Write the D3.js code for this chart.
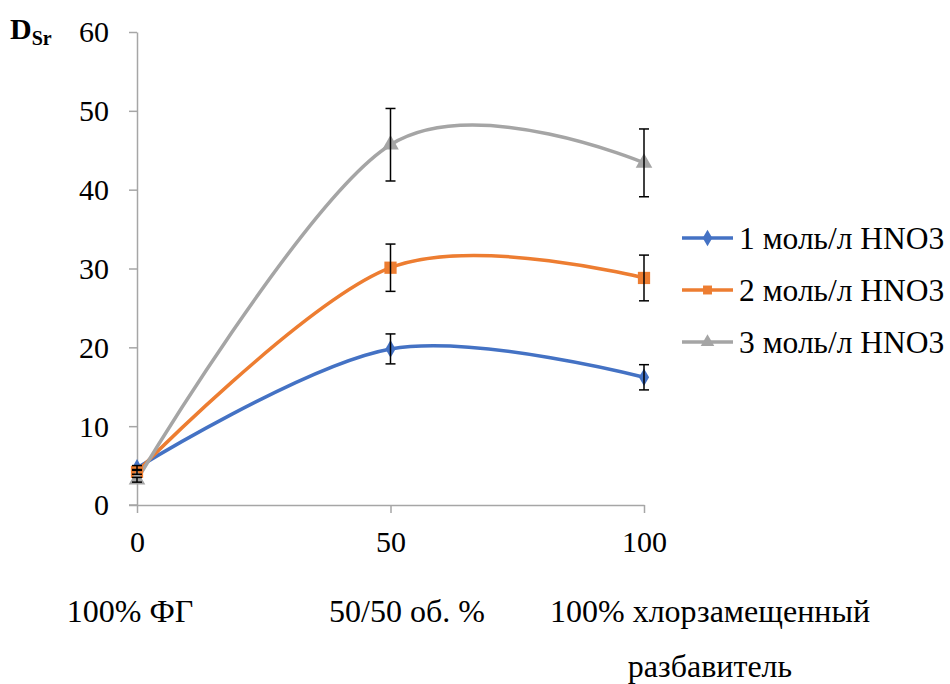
<!DOCTYPE html>
<html>
<head>
<meta charset="utf-8">
<script src="https://cdn.jsdelivr.net/npm/d3@7"></script>
<style>
  html, body { margin: 0; padding: 0; background: #fff; }
  svg { display: block; font-family: "Liberation Serif", "Times New Roman", serif; }
</style>
</head>
<body>
<svg id="chart" width="950" height="684"></svg>
<script>
// Volume share of the chlorinated diluent, %
const xValues = [0, 50, 100];

// Distribution coefficient of Sr for each HNO3 concentration
const seriesNames = ["1 моль/л HNO3", "2 моль/л HNO3", "3 моль/л HNO3"];
const d1 = [4.7, 19.8, 16.2];
const d2 = [4.2, 30.1, 28.8];
const d3v = [3.2, 45.7, 43.4];
const err1 = [0.3, 1.9, 1.6];
const err2 = [0.3, 3.0, 2.9];
const err3 = [0.3, 4.6, 4.3];

const yTicks = [0, 10, 20, 30, 40, 50, 60];
const xTicks = [0, 50, 100];
const categoryLabels = [["100% ФГ"], ["50/50 об. %"], ["100% хлорзамещенный", "разбавитель"]];

const colors = ["#4472c4", "#ed7d31", "#a5a5a5"];
const symbols = [d3.symbolDiamond, d3.symbolSquare, d3.symbolTriangle];

const series = [
  { name: seriesNames[0], values: d1, err: err1 },
  { name: seriesNames[1], values: d2, err: err2 },
  { name: seriesNames[2], values: d3v, err: err3 }
];

const serif = "'Liberation Serif', 'Times New Roman', serif";
const svg = d3.select("#chart");
const x = d3.scaleLinear().domain([0, 100]).range([137, 644]);
const y = d3.scaleLinear().domain([0, 60]).range([505, 32]);
const axisColor = "#a6a6a6";

// Y axis
const yAxis = svg.append("g")
  .attr("transform", `translate(${x(0)},0)`)
  .call(d3.axisLeft(y).tickValues(yTicks).tickSize(8).tickPadding(20).tickSizeOuter(0));
yAxis.attr("font-family", serif).attr("font-size", 30);
yAxis.select(".domain").attr("stroke", axisColor).attr("stroke-width", 1.5);
yAxis.selectAll(".tick line").attr("stroke", axisColor).attr("stroke-width", 1.5);
yAxis.selectAll(".tick text").attr("fill", "#000").attr("dy", "0.33em");

// X axis
const xAxis = svg.append("g")
  .attr("transform", `translate(0,${y(0)})`)
  .call(d3.axisBottom(x).tickValues(xTicks).tickSize(8).tickPadding(18).tickSizeOuter(0));
xAxis.attr("font-family", serif).attr("font-size", 30);
xAxis.select(".domain").attr("stroke", axisColor).attr("stroke-width", 1.5);
xAxis.selectAll(".tick line").attr("stroke", axisColor).attr("stroke-width", 1.5);
xAxis.selectAll(".tick text").attr("fill", "#000");
// extend the baseline slightly left of the vertical axis
svg.append("line")
  .attr("x1", x(0) - 8).attr("x2", x(0))
  .attr("y1", y(0)).attr("y2", y(0))
  .attr("stroke", axisColor).attr("stroke-width", 1.5);

// Y axis title: D with subscript Sr
const yTitle = svg.append("text")
  .attr("x", 10).attr("y", 39)
  .attr("font-weight", "bold").attr("font-size", 30).attr("fill", "#000");
yTitle.append("tspan").text("D");
yTitle.append("tspan").attr("font-size", 20).attr("dy", 6).text("Sr");

// Category descriptions under the axis
const catX = [130, 407, 710];
categoryLabels.forEach((lines, i) => {
  lines.forEach((t, j) => {
    svg.append("text")
      .attr("x", catX[i]).attr("y", 622 + j * 55)
      .attr("text-anchor", "middle")
      .attr("font-size", 32).attr("fill", "#000")
      .text(t);
  });
});

// Smoothed series lines
const line = d3.line()
  .x((d, i) => x(xValues[i]))
  .y(d => y(d))
  .curve(d3.curveCardinal.tension(0));

series.forEach((s, k) => {
  svg.append("path")
    .attr("d", line(s.values))
    .attr("fill", "none")
    .attr("stroke", colors[k])
    .attr("stroke-width", 3.5)
    .attr("stroke-linecap", "round");
});

// Markers
const markerSizes = [90, 150, 120];
series.forEach((s, k) => {
  svg.append("g").selectAll("path")
    .data(s.values)
    .join("path")
    .attr("transform", (d, i) => `translate(${x(xValues[i])},${y(d)})`)
    .attr("d", d3.symbol().type(symbols[k]).size(markerSizes[k]))
    .attr("fill", colors[k]);
});

// Error bars
series.forEach((s, k) => {
  const g = svg.append("g").attr("stroke", "#000").attr("stroke-width", 1.5);
  s.values.forEach((v, i) => {
    const cx = x(xValues[i]);
    const top = y(v + s.err[i]), bot = y(v - s.err[i]);
    g.append("line").attr("x1", cx).attr("x2", cx).attr("y1", top).attr("y2", bot);
    g.append("line").attr("x1", cx - 5).attr("x2", cx + 5).attr("y1", top).attr("y2", top);
    g.append("line").attr("x1", cx - 5).attr("x2", cx + 5).attr("y1", bot).attr("y2", bot);
  });
});

// Legend
const legend = svg.append("g");
series.forEach((s, k) => {
  const ly = 238 + k * 52;
  legend.append("line")
    .attr("x1", 682).attr("x2", 733).attr("y1", ly).attr("y2", ly)
    .attr("stroke", colors[k]).attr("stroke-width", 3.5);
  legend.append("path")
    .attr("transform", `translate(707.5,${ly})`)
    .attr("d", d3.symbol().type(symbols[k]).size(80))
    .attr("fill", colors[k]);
  legend.append("text")
    .attr("x", 739).attr("y", ly + 11)
    .attr("font-size", 31.5).attr("fill", "#000")
    .text(s.name);
});
</script>
</body>
</html>
